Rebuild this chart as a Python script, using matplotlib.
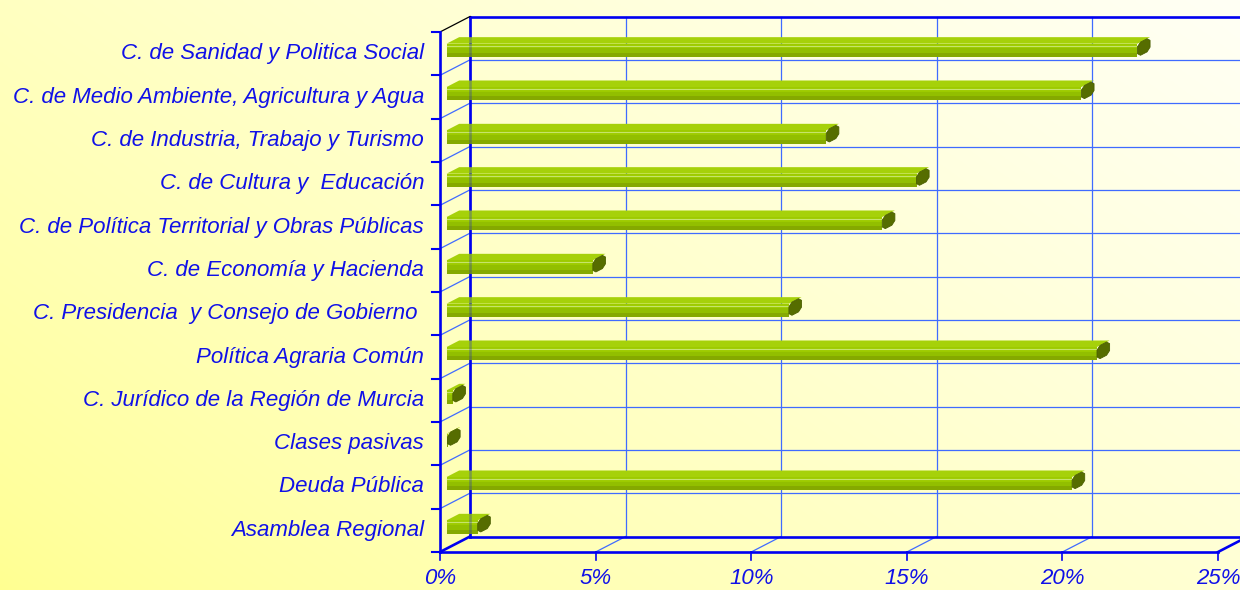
import numpy as np
import matplotlib
matplotlib.use("Agg")
import matplotlib.pyplot as plt
from matplotlib.patches import Polygon
from matplotlib.lines import Line2D
from matplotlib.transforms import IdentityTransform

# categories, bottom to top
labels = [
    "Asamblea Regional",
    "Deuda Pública",
    "Clases pasivas",
    "C. Jurídico de la Región de Murcia",
    "Política Agraria Común",
    "C. Presidencia  y Consejo de Gobierno ",
    "C. de Economía y Hacienda",
    "C. de Política Territorial y Obras Públicas",
    "C. de Cultura y  Educación",
    "C. de Industria, Trabajo y Turismo",
    "C. de Medio Ambiente, Agricultura y Agua",
    "C. de Sanidad y Politica Social",
]
values = [1.0, 20.1, 0.03, 0.2, 20.9, 11.0, 4.7, 14.0, 15.1, 12.2, 20.4, 22.2]

x_ticks = [0, 5, 10, 15, 20, 25]
x_tick_labels = ["0%", "5%", "10%", "15%", "20%", "25%"]

W, H = 1240, 590
DEPTH = np.array([30.0, 15.5])   # pixel offset of the back wall
BLUE = "#0000f0"
GRID = "#3f6bff"
TEXT = "#1010e8"
FONT = ["Liberation Sans", "DejaVu Sans"]

fig = plt.figure(figsize=(W / 100, H / 100), dpi=100)

# ------------------------------------------------------------------
# background gradient
# ------------------------------------------------------------------
bg = fig.add_axes([0, 0, 1, 1], zorder=-10)
bg.axis("off")
gx, gy = np.meshgrid(np.linspace(0, 1, 300), np.linspace(0, 1, 300))
t = np.clip(0.6 * gx + 0.4 * (1 - gy), 0, 1) ** 0.8
yellow = np.array([255, 255, 145]) / 255
white = np.array([255, 255, 245]) / 255
img = yellow[None, None, :] * (1 - t[..., None]) + white[None, None, :] * t[..., None]
bg.imshow(img, aspect="auto", extent=[0, 1, 0, 1], origin="upper")

# ------------------------------------------------------------------
# front plane axes
# ------------------------------------------------------------------
ax = fig.add_axes([440 / W, (H - 552) / H, (1218 - 440) / W, (552 - 32) / H])
ax.set_xlim(0, 25)
ax.set_ylim(-0.5, 11.5)
ax.axis("off")


def proj(x, y, d=0.0):
    """data point at depth d (0 = front, 1 = back wall) -> display pixels"""
    return ax.transData.transform((x, y)) + d * DEPTH


def seg(p0, p1, **kw):
    ax.add_line(Line2D([p0[0], p1[0]], [p0[1], p1[1]],
                       transform=IdentityTransform(), clip_on=False, **kw))


def poly(pts, **kw):
    ax.add_patch(Polygon(np.array(pts), closed=True, transform=IdentityTransform(),
                         clip_on=False, **kw))


y_lo, y_hi = -0.5, len(labels) - 0.5
bounds = np.arange(len(labels) + 1) - 0.5

# back wall grid
for x in x_ticks[1:-1]:
    seg(proj(x, y_lo, 1), proj(x, y_hi, 1), color=GRID, lw=0.9, zorder=1)
for y in bounds[1:-1]:
    seg(proj(0, y, 1), proj(25, y, 1), color=GRID, lw=0.9, zorder=1)
    seg(proj(0, y, 0), proj(0, y, 1), color=GRID, lw=0.9, zorder=1)
for x in x_ticks[1:-1]:
    seg(proj(x, y_lo, 0), proj(x, y_lo, 1), color=GRID, lw=0.9, zorder=1)

# back wall frame + floor edges
seg(proj(0, y_hi, 1), proj(25, y_hi, 1), color=BLUE, lw=1.9, zorder=2)
seg(proj(0, y_lo, 1), proj(25, y_lo, 1), color=BLUE, lw=1.9, zorder=2)
seg(proj(0, y_lo, 1), proj(0, y_hi, 1), color=BLUE, lw=1.9, zorder=2)
seg(proj(0, y_lo, 0), proj(0, y_lo, 1), color=BLUE, lw=1.9, zorder=2)
seg(proj(25, y_lo, 0), proj(25, y_lo, 1), color=BLUE, lw=1.9, zorder=2)
seg(proj(0, y_hi, 0), proj(0, y_hi, 1), color="black", lw=0.9, zorder=2)

# ------------------------------------------------------------------
# bars
# ------------------------------------------------------------------
d1, d2 = 0.22, 0.64
hh = 0.152


def chamfer(pts, f=0.24):
    out = []
    n = len(pts)
    for k in range(n):
        p, prv, nxt = pts[k], pts[k - 1], pts[(k + 1) % n]
        out.append(p + (prv - p) * f)
        out.append(p + (nxt - p) * f)
    return out


for i, v in enumerate(values):
    yb, yt = i - hh, i + hh
    # top face
    poly([proj(0, yt, d1), proj(v, yt, d1), proj(v, yt, d2), proj(0, yt, d2)],
         facecolor="#a6d10a", edgecolor="none", zorder=3)
    # front face in three shades
    bands = [(0.0, 0.3, "#85a900"), (0.3, 0.65, "#92bf00"), (0.65, 1.0, "#9dcb00")]
    for a, b, c in bands:
        y0 = yb + (yt - yb) * a
        y1 = yb + (yt - yb) * b
        poly([proj(0, y0, d1), proj(v, y0, d1), proj(v, y1, d1), proj(0, y1, d1)],
             facecolor=c, edgecolor="none", zorder=3)
    yh = yb + (yt - yb) * 0.85
    seg(proj(0, yh, d1), proj(v, yh, d1), color="#c6e46a", lw=0.8, zorder=3.1)
    # end cap
    cap = [proj(v, yb, d1), proj(v, yt, d1), proj(v, yt, d2), proj(v, yb, d2)]
    poly(chamfer(cap), facecolor="#566d00", edgecolor="#4b5f00", lw=0.6, zorder=3.2)

# back-wall left edge shows faintly through the bars
seg(proj(0, y_lo, 1), proj(0, y_hi, 1), color=BLUE, lw=1.9, alpha=0.25, zorder=3.5)

# ------------------------------------------------------------------
# front axes, ticks, labels
# ------------------------------------------------------------------
seg(proj(0, y_lo), proj(0, y_hi), color=BLUE, lw=1.9, zorder=4)
seg(proj(0, y_lo), proj(25, y_lo), color=BLUE, lw=1.9, zorder=4)
for y in bounds:
    p = proj(0, y)
    seg(p, p - np.array([8, 0]), color=BLUE, lw=1.5, zorder=4)
for x in x_ticks:
    p = proj(x, y_lo)
    seg(p, p - np.array([0, 8]), color=BLUE, lw=1.2, zorder=4)

for i, lab in enumerate(labels):
    ax.annotate(lab, (0, i), xytext=(-11.5, 0), textcoords="offset points",
                ha="right", va="center", fontsize=16, style="italic",
                color=TEXT, family=FONT, annotation_clip=False)
for x, lab in zip(x_ticks, x_tick_labels):
    ax.annotate(lab, (x, y_lo), xytext=(0, -19), textcoords="offset points",
                ha="center", va="center", fontsize=16, style="italic",
                color=TEXT, family=FONT, annotation_clip=False)

fig.savefig("out.png", dpi=100)
